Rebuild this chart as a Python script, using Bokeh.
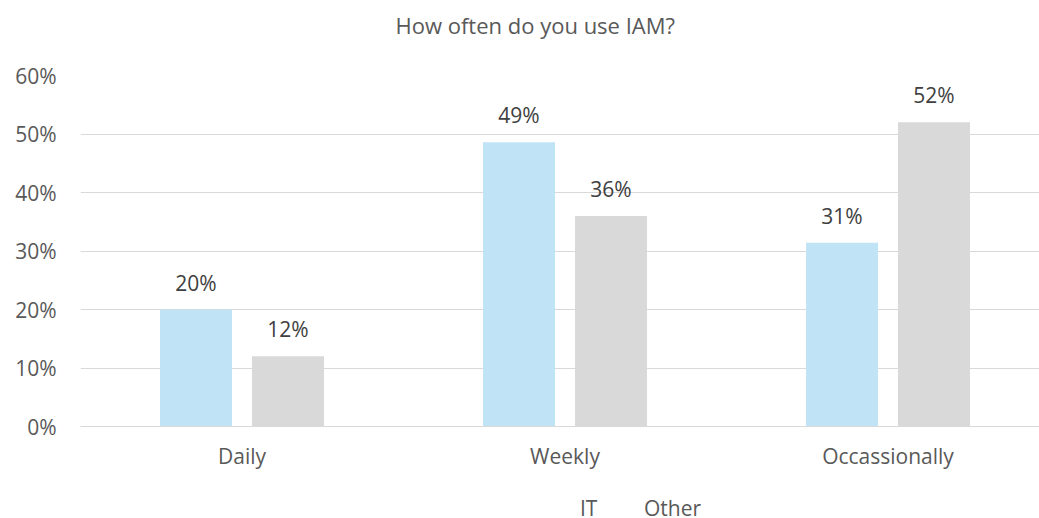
from bokeh.plotting import figure
from bokeh.layouts import column
from bokeh.models import (ColumnDataSource, Range1d, Legend, LegendItem, NumeralTickFormatter,
                          FixedTicker, LabelSet)
from bokeh.core.properties import value
from bokeh.embed import file_html
from bokeh.resources import INLINE
from bokeh.transform import dodge

categories = ["Daily", "Weekly", "Occassionally"]
it_values = [0.20, 0.486, 0.314]
other_values = [0.12, 0.36, 0.52]
y_ticks = [0, 0.1, 0.2, 0.3, 0.4, 0.5, 0.6]
series_names = ["IT", "Other"]

FONT = "Open Sans"
IT_COLOR = "#C0E4F5"
OTHER_COLOR = "#D9D9D9"
FS = "21px"

idx = list(range(len(categories)))
src = ColumnDataSource(dict(
    idx=idx,
    it=it_values,
    other=other_values,
    it_lbl=[f"{round(v*100)}%" for v in it_values],
    other_lbl=[f"{round(v*100)}%" for v in other_values],
))

p = figure(x_range=Range1d(-0.5, 2.469), y_range=Range1d(0, 0.6),
           frame_width=959, frame_height=351, output_backend="svg", toolbar_location=None,
           min_border_left=80, min_border_right=0, min_border_top=75, min_border_bottom=48)
p.outline_line_color = None
p.background_fill_color = "white"

OFF = 0.1424
r1 = p.vbar(x=dodge("idx", -OFF), top="it", width=0.223, source=src,
            fill_color=IT_COLOR, line_color=None)
r2 = p.vbar(x=dodge("idx", OFF), top="other", width=0.223, source=src,
            fill_color=OTHER_COLOR, line_color=None)

for col, lbl, off in (("it", "it_lbl", -OFF), ("other", "other_lbl", OFF)):
    ls = LabelSet(x=dodge("idx", off), y=col, text=lbl, source=src,
                  text_align="center", text_baseline="alphabetic", y_offset=19,
                  text_font=value(FONT), text_font_size=FS, text_color="#404040")
    p.add_layout(ls)

p.title.text = "How often do you use IAM?\n "
p.title.align = "left"
p.title.offset = 315
p.title.vertical_align = "bottom"
p.title.text_font = FONT
p.title.text_font_size = "22px"
p.title.text_font_style = "normal"
p.title.text_color = "#595959"
p.title.standoff = 12

p.yaxis.ticker = FixedTicker(ticks=y_ticks)
p.yaxis.formatter = NumeralTickFormatter(format="0%")
p.yaxis.axis_line_color = None
p.yaxis.major_tick_line_color = None
p.yaxis.minor_tick_line_color = None
p.yaxis.major_label_standoff = 18
p.yaxis.major_label_text_font = FONT
p.yaxis.major_label_text_font_size = FS
p.yaxis.major_label_text_color = "#595959"

p.xaxis.ticker = FixedTicker(ticks=idx)
p.xaxis.major_label_overrides = {i: c for i, c in zip(idx, categories)}
p.xaxis.axis_line_color = "#D9D9D9"
p.xaxis.major_tick_line_color = None
p.xaxis.minor_tick_line_color = None
p.xaxis.major_label_standoff = 9
p.xaxis.major_label_text_font = FONT
p.xaxis.major_label_text_font_size = FS
p.xaxis.major_label_text_color = "#595959"

p.xgrid.grid_line_color = None
p.ygrid.grid_line_color = "#D9D9D9"
p.ygrid.grid_line_width = 1

# legend strip
lg = figure(width=1039, height=44, output_backend="svg", toolbar_location=None,
            x_range=Range1d(0, 1), y_range=Range1d(0, 1),
            min_border_left=0, min_border_right=0, min_border_top=0, min_border_bottom=0)
lg.outline_line_color = None
lg.axis.visible = False
lg.grid.grid_line_color = None
l1 = lg.vbar(x=[], top=[], width=0.1, fill_color=IT_COLOR, line_color=None)
l2 = lg.vbar(x=[], top=[], width=0.1, fill_color=OTHER_COLOR, line_color=None)
legend = Legend(items=[LegendItem(label=series_names[0], renderers=[l1]),
                       LegendItem(label=series_names[1], renderers=[l2])],
                orientation="horizontal", location=(480, -4), border_line_color=None,
                background_fill_alpha=0,
                label_text_font=FONT, label_text_font_size=FS, label_text_color="#595959",
                glyph_width=14, glyph_height=14, spacing=24, label_standoff=6, padding=0, margin=0)
lg.add_layout(legend, "center")

layout = column(p, lg, spacing=0)
open("out.html", "w").write(file_html(layout, INLINE))
